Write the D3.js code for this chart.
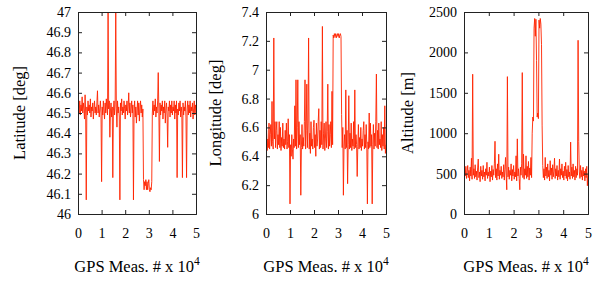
<!DOCTYPE html>
<html>
<head>
<meta charset="utf-8">
<script src="https://cdn.jsdelivr.net/npm/d3@7"></script>
<style>
  body { margin: 0; background: #fff; }
</style>
</head>
<body>
<div id="chart"></div>
<script>
// one stored sample every 250 GPS measurements (index i -> i * 0.025 x 10^4)
const sampleEvery = 0.025;

const latitude = [
  46.48, 46.53, 46.50, 46.56, 46.49, 46.54, 46.51, 46.58, 46.50, 46.55,
  46.52, 46.47, 46.59, 46.50, 46.07, 46.53, 46.49, 46.56, 46.51, 46.54,
  46.50, 46.57, 46.48, 46.53, 46.51, 46.55, 46.47, 46.52, 46.56, 46.50,
  46.53, 46.49, 46.55, 46.61, 46.50, 46.54, 46.48, 46.52, 46.56, 46.50,
  46.16, 46.53, 46.49, 46.56, 46.51, 46.47, 46.55, 46.50, 46.57, 46.52,
  46.49, 47.00, 46.52, 46.56, 46.38, 46.51, 46.55, 46.48, 46.53, 46.18,
  46.51, 46.56, 46.49, 46.54, 47.00, 46.52, 46.43, 46.56, 46.50, 46.53,
  46.48, 46.07, 46.55, 46.51, 46.57, 46.49, 46.53, 46.50, 46.56, 46.52,
  46.47, 46.54, 46.51, 46.56, 46.49, 46.53, 46.60, 46.50, 46.55, 46.48,
  46.52, 46.56, 46.50, 46.54, 46.07, 46.51, 46.56, 46.48, 46.53, 46.45,
  46.51, 46.56, 46.49, 46.55, 46.46, 46.52, 46.56, 46.50, 46.54, 46.48,
  46.52, 46.17, 46.12, 46.16, 46.14, 46.17, 46.12, 46.16, 46.12, 46.15,
  46.17, 46.12, 46.11, 46.13, 46.12, 46.16, 46.50, 46.56, 46.49, 46.54,
  46.51, 46.57, 46.48, 46.53, 46.50, 46.56, 46.70, 46.52, 46.26, 46.55,
  46.49, 46.54, 46.51, 46.56, 46.47, 46.53, 46.50, 46.56, 46.45, 46.52,
  46.55, 46.49, 46.33, 46.53, 46.51, 46.56, 46.48, 46.54, 46.50, 46.56,
  46.49, 46.53, 46.51, 46.56, 46.47, 46.54, 46.50, 46.56, 46.18, 46.52,
  46.49, 46.55, 46.51, 46.56, 46.48, 46.53, 46.50, 46.18, 46.55, 46.49,
  46.53, 46.51, 46.56, 46.48, 46.18, 46.52, 46.56, 46.49, 46.54, 46.50,
  46.56, 46.48, 46.53, 46.51, 46.55, 46.47, 46.52, 46.56, 46.49, 46.54,
  46.50
];

const longitude = [
  6.48, 6.58, 6.44, 6.52, 6.46, 6.63, 6.45, 6.55, 6.62, 6.47,
  6.78, 6.50, 6.45, 7.22, 6.52, 6.64, 6.46, 6.58, 6.64, 6.45,
  6.55, 6.48, 6.64, 6.46, 6.60, 6.44, 6.53, 6.47, 6.63, 6.46,
  6.52, 6.45, 6.58, 6.48, 6.63, 6.45, 6.50, 6.66, 6.46, 6.55,
  6.07, 6.48, 6.40, 6.55, 6.45, 6.38, 6.52, 6.46, 6.75, 6.47,
  6.93, 6.45, 6.60, 6.93, 6.46, 6.64, 6.48, 6.55, 6.13, 6.46,
  6.62, 6.45, 6.53, 6.47, 6.64, 6.93, 6.45, 6.58, 6.90, 6.46,
  6.63, 7.22, 6.45, 6.56, 6.42, 6.64, 6.47, 6.52, 6.45, 6.60,
  6.65, 6.46, 6.55, 6.40, 6.63, 6.47, 6.52, 6.64, 6.73, 6.45,
  6.58, 6.46, 6.64, 6.48, 7.30, 6.45, 6.56, 6.63, 6.44, 6.52,
  6.64, 6.46, 6.57, 6.90, 6.45, 6.62, 6.47, 6.55, 6.64, 6.46,
  6.85, 6.48, 7.24, 7.22, 7.25, 7.23, 7.25, 7.22, 7.24, 7.25,
  7.23, 7.25, 7.22, 7.24, 7.25, 7.23, 6.69, 6.46, 6.60, 6.13,
  6.47, 6.55, 6.45, 6.86, 6.46, 6.58, 6.21, 6.48, 6.82, 6.45,
  6.56, 6.46, 6.63, 6.44, 6.52, 6.47, 6.64, 6.45, 6.86, 6.46,
  6.55, 6.48, 6.26, 6.47, 6.62, 6.45, 6.53, 6.46, 6.60, 6.44,
  6.52, 6.47, 6.58, 6.64, 6.45, 6.55, 6.46, 6.62, 6.48, 6.07,
  6.50, 6.45, 6.70, 6.46, 6.63, 6.47, 6.55, 6.07, 6.48, 6.62,
  6.45, 6.56, 6.47, 6.64, 6.97, 6.46, 6.58, 6.45, 6.63, 6.48,
  6.52, 6.46, 6.64, 6.44, 6.55, 6.47, 6.60, 6.45, 6.75, 6.42,
  6.48
];

const altitude = [
  420, 560, 470, 590, 440, 520, 600, 450, 540, 410,
  580, 470, 690, 430, 1730, 480, 560, 440, 610, 460,
  530, 420, 570, 680, 450, 520, 400, 590, 470, 540,
  430, 600, 460, 520, 410, 560, 480, 640, 440, 520,
  470, 580, 400, 530, 460, 600, 420, 550, 480, 620,
  900, 450, 560, 420, 620, 470, 740, 430, 540, 480,
  590, 440, 520, 460, 610, 420, 550, 700, 480, 300,
  1700, 460, 580, 430, 540, 480, 620, 410, 550, 470,
  600, 430, 520, 460, 720, 410, 930, 470, 560, 440,
  300, 580, 480, 620, 1750, 450, 740, 430, 560, 480,
  720, 440, 590, 460, 650, 420, 570, 480, 700, 450,
  1000, 1200, 1150, 2300, 2420, 2200, 2410, 1900, 1200, 1250,
  1180, 2400, 2300, 2420, 2350, 2100, 1100, 600, 450, 560,
  420, 700, 470, 580, 440, 620, 460, 540, 410, 660,
  480, 570, 430, 610, 460, 530, 690, 440, 560, 470,
  600, 420, 540, 460, 680, 430, 560, 480, 620, 450,
  530, 420, 590, 470, 640, 440, 550, 410, 600, 460,
  520, 430, 890, 470, 580, 440, 620, 460, 540, 420,
  590, 450, 560, 480, 2150, 900, 520, 440, 600, 460,
  540, 420, 580, 470, 530, 410, 560, 450, 590, 350,
  480
];

const xTicks = [0, 1, 2, 3, 4, 5];
const latTicks = [46, 46.1, 46.2, 46.3, 46.4, 46.5, 46.6, 46.7, 46.8, 46.9, 47];
const lonTicks = [6, 6.2, 6.4, 6.6, 6.8, 7, 7.2, 7.4];
const altTicks = [0, 500, 1000, 1500, 2000, 2500];

const panels = [
  {values: latitude, ticks: latTicks, domain: [46, 47], label: "Latitude [deg]", left: 78, right: 196, labelX: 19},
  {values: longitude, ticks: lonTicks, domain: [6, 7.4], label: "Longitude [deg]", left: 266, right: 386, labelX: 215},
  {values: altitude, ticks: altTicks, domain: [0, 2500], label: "Altitude [m]", left: 464, right: 588, labelX: 407}
];

const width = 598, height = 292;
const plotTop = 12, plotBottom = 214;
const lineColor = "#ff2400";
const serif = '"Liberation Serif", "Times New Roman", "DejaVu Serif", serif';

const svg = d3.select("#chart").append("svg")
    .attr("width", width)
    .attr("height", height);

panels.forEach((p, k) => {
    const x = d3.scaleLinear().domain([0, 5]).range([p.left, p.right]);
    const y = d3.scaleLinear().domain(p.domain).range([plotBottom, plotTop]);
    const g = svg.append("g");

    // clip the trace to the plot box
    g.append("clipPath").attr("id", "clip" + k)
        .append("rect")
        .attr("x", p.left).attr("y", plotTop)
        .attr("width", p.right - p.left).attr("height", plotBottom - plotTop);

    const line = d3.line()
        .x((d, i) => x(i * sampleEvery))
        .y(d => y(d));

    g.append("path")
        .datum(p.values)
        .attr("clip-path", `url(#clip${k})`)
        .attr("fill", "none")
        .attr("stroke", lineColor)
        .attr("stroke-width", 1)
        .attr("stroke-opacity", 0.9)
        .attr("d", line);

    // bottom + left axes with inward ticks, top + right mirrored without labels
    g.append("g").attr("class", "axis")
        .attr("transform", `translate(0,${plotBottom})`)
        .call(d3.axisBottom(x).tickValues(xTicks).tickSize(-4).tickPadding(14).tickFormat(d3.format("d")));

    g.append("g").attr("class", "axis")
        .attr("transform", `translate(0,${plotTop})`)
        .call(d3.axisTop(x).tickValues(xTicks).tickSize(-4).tickFormat(""));

    g.append("g").attr("class", "axis")
        .attr("transform", `translate(${p.left},0)`)
        .call(d3.axisLeft(y).tickValues(p.ticks).tickSize(-4).tickPadding(7).tickFormat(d3.format("~g")));

    g.append("g").attr("class", "axis")
        .attr("transform", `translate(${p.right},0)`)
        .call(d3.axisRight(y).tickValues(p.ticks).tickSize(-4).tickFormat(""));

    g.selectAll(".axis").attr("font-family", serif).attr("font-size", 14);
    g.selectAll(".axis text").attr("fill", "#000");
    g.selectAll(".axis path").attr("stroke", "#222");
    g.selectAll(".axis line").attr("stroke", "#222");

    // x label with superscript exponent
    const xl = g.append("text")
        .attr("x", (p.left + p.right) / 2)
        .attr("y", 272)
        .attr("text-anchor", "middle")
        .attr("font-family", serif)
        .attr("font-size", 16.5);
    xl.append("tspan").text("GPS Meas. # x 10");
    xl.append("tspan").attr("dy", -7).attr("font-size", 11.5).text("4");

    g.append("text")
        .attr("transform", `translate(${p.labelX},${(plotTop + plotBottom) / 2}) rotate(-90)`)
        .attr("text-anchor", "middle")
        .attr("dy", "0.35em")
        .attr("font-family", serif)
        .attr("font-size", 16.5)
        .text(p.label);
});
</script>
</body>
</html>
